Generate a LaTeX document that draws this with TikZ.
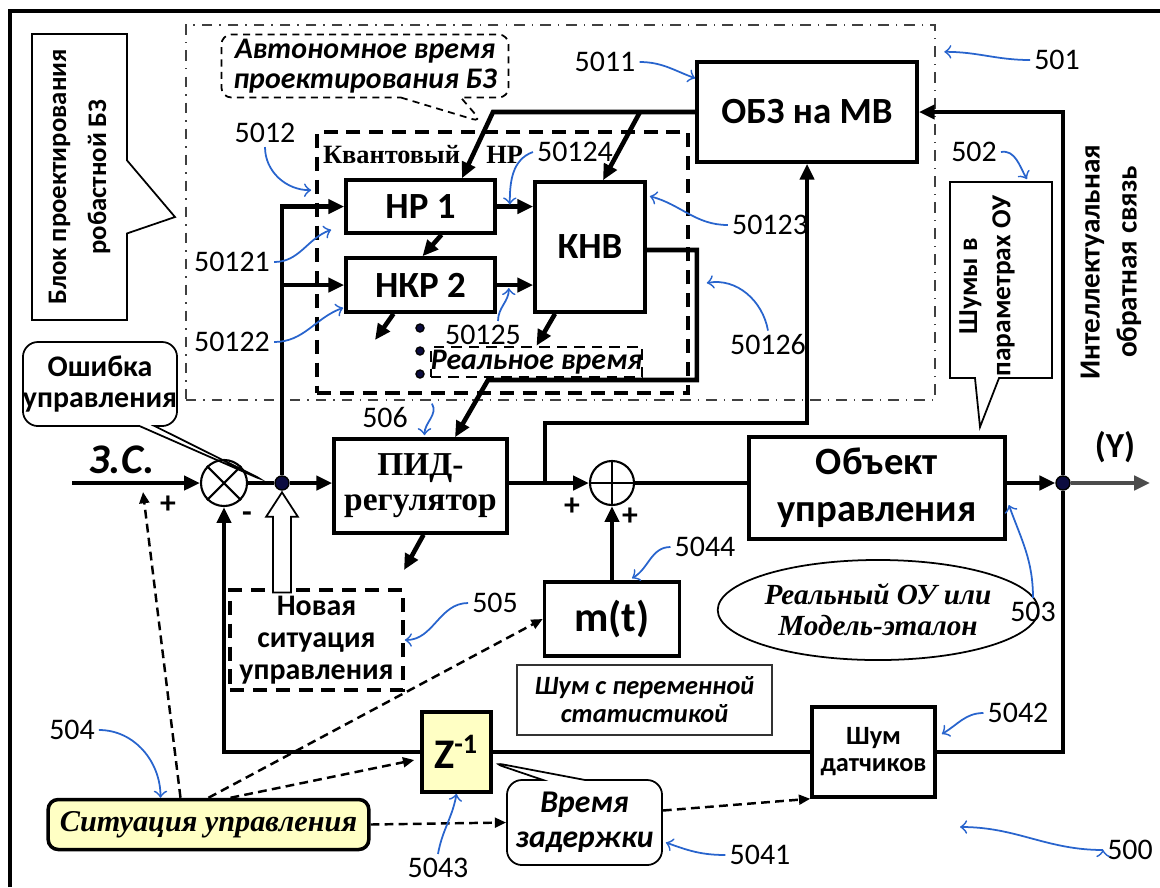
\documentclass[tikz,border=0pt]{standalone}
\usepackage{fontspec}
\setmainfont{Carlito}
\newfontfamily\timesfont{Liberation Serif}
\usepackage{tikz}
\usetikzlibrary{arrows.meta,positioning,shapes.geometric,shapes.callouts,shapes.arrows}
\definecolor{annoblue}{RGB}{40,100,205}
\definecolor{paleyellow}{RGB}{255,255,196}
\definecolor{dotnavy}{RGB}{12,12,64}
\newcommand{\fsz}[2]{\fontsize{#1}{#2}\selectfont}

\begin{document}
\begin{tikzpicture}
[x=0.01cm, y=-0.01cm,
% STYLES
% block is used for the boxes of the control loop
block/.style={rectangle, draw, line width=1pt, inner sep=0pt, align=center, font=\fsz{10.5}{12.5}\bfseries},
% dbox is used for the dashed boxes
dbox/.style={rectangle, draw, line width=1pt, dash pattern=on 4pt off 2.5pt, inner sep=0pt, align=center},
% call is used for the callouts
call/.style={rectangle callout, draw, line width=0.5pt, inner sep=0pt, align=center},
% signal lines
sig/.style={line width=1.3pt, -{Triangle[length=4.5pt,width=4pt]}},
wire/.style={line width=1.3pt},
sitlink/.style={line width=0.7pt, dash pattern=on 2.5pt off 1.5pt, -{Triangle[length=3.2pt,width=2.8pt]}},
% reference numbers and their blue arrows
num/.style={inner sep=1pt, font=\fsz{8.5}{10}},
anno/.style={draw=annoblue, line width=0.5pt, -to},
% circles
junction/.style={circle, draw, line width=0.6pt, inner sep=0pt},
bdot/.style={circle, draw, fill=dotnavy, minimum size=0.14cm, inner sep=0pt}]

\useasboundingbox (0,0) rectangle (1160,887);
\draw[line width=1.2pt] (10,887) -- (10,11) -- (1160,11);

% Draw the design block
\node[draw=black!75, dash dot, line width=0.6pt, minimum width=7.49cm, minimum height=3.75cm] (dsgn) at (560.5,212.5) {};
\node[dbox, minimum width=3.71cm, minimum height=2.61cm] (quant) at (502.5,262.5) {};
\node[font=\timesfont\fsz{7.5}{9}\bfseries] (qlabel) at (423,155) {Квантовый\quad НР};
\node[block, minimum width=2.2cm, minimum height=1.0cm] (obz) at (807,112) {ОБЗ на МВ};
\node[block, minimum width=1.49cm, minimum height=0.53cm] (hp1) at (420.5,206.5) {НР 1};
\node[block, minimum width=1.49cm, minimum height=0.54cm] (nkr2) at (420.5,285) {НКР 2};
\node[block, minimum width=1.1cm, minimum height=1.3cm] (knv) at (590,247) {КНВ};
\node[dbox, line width=0.7pt, dash pattern=on 3pt off 2pt, minimum width=2.03cm, minimum height=0.3cm, font=\fsz{8.5}{10}\bfseries\itshape] (realtime) at (536.5,362) {Реальное время};
\foreach \i/\y in {1/328, 2/351, 3/374}
  \node[bdot, minimum size=0.08cm] (vdot\i) at (420,\y) {};

% Draw the control loop
\node[block, font=\timesfont\fsz{9.5}{10}\bfseries, minimum width=1.73cm, minimum height=0.94cm] (pid) at (420.5,486) {ПИД-\\регулятор};
\node[block, font=\fsz{11}{13.4}\bfseries, minimum width=2.56cm, minimum height=1.02cm] (plant) at (877,488) {Объект\\управления};
\node[block, font=\fsz{12}{14}\bfseries, minimum width=1.35cm, minimum height=0.74cm] (mt) at (612,619) {m(t)};
\node[rectangle, draw=black!80, line width=0.5pt, minimum width=2.55cm, minimum height=0.6cm, align=center, font=\fsz{7.5}{8}\bfseries\itshape] (varnoise) at (644.5,700) {Шум с переменной\\статистикой};
\node[block, fill=paleyellow, font=\fsz{12}{14}\bfseries, minimum width=0.69cm, minimum height=0.8cm] (zinv) at (456.5,752) {Z\textsuperscript{-1}};
\node[block, font=\fsz{7.5}{7.7}\bfseries, minimum width=1.23cm, minimum height=0.9cm] (sensor) at (873.5,752) {Шум\\датчиков};
\node[dbox, font=\fsz{8.5}{9.2}\bfseries, minimum width=1.73cm, minimum height=1.0cm] (newsit) at (316.5,640) {Новая\\ситуация\\управления};
\node[rectangle, draw, rounded corners=0.1cm, line width=1pt, fill=paleyellow, minimum width=3.13cm, minimum height=0.49cm, font=\timesfont\fsz{8.6}{10}\bfseries\itshape] (sit) at (208.5,824.5) {Ситуация управления};
\node[ellipse, draw, line width=0.5pt, minimum width=2.48cm, minimum height=1.0cm, inner sep=0pt, align=center, font=\timesfont\fsz{8.3}{8.8}\bfseries\itshape] (ideal) at (878,610) {Реальный ОУ или\\Модель-эталон};

% Callouts
\node[call, minimum width=0.95cm, minimum height=2.86cm, callout absolute pointer={(175,217)}, callout pointer width=0.73cm] (blk) at (79.5,177) {};
\node[rotate=90, align=center, font=\fsz{7.6}{11.4}\bfseries] (blktext) at (blk.center) {Блок проектирования\\робастной БЗ};
\node[call, rounded corners=0.1cm, dash pattern=on 2pt off 1.5pt, minimum width=2.87cm, minimum height=0.63cm, callout absolute pointer={(482,122)}, callout pointer width=0.6cm, font=\fsz{8.5}{8.5}\bfseries\itshape] (autotime) at (365,66) {Автономное время\\проектирования БЗ};
\node[call, rounded corners=0.15cm, minimum width=1.36cm, minimum height=0.84cm, callout absolute pointer={(267,482)}, callout pointer width=0.15cm, font=\fsz{8.5}{9}\bfseries] (err) at (100,384) {Ошибка\\управления};
\node[call, minimum width=1.02cm, minimum height=1.96cm, callout absolute pointer={(980,427)}, callout pointer width=0.24cm] (noisecall) at (1001,280) {};
\node[rotate=90, align=center, font=\fsz{7.8}{9.4}\bfseries] (noisetext) at (987,286) {Шумы в\\параметрах ОУ};
\node[call, rounded corners=0.15cm, minimum width=1.55cm, minimum height=0.85cm, callout absolute pointer={(490,762)}, callout pointer width=0.42cm, font=\fsz{9}{10}\bfseries\itshape] (delay) at (584.5,822.5) {Время\\задержки};
\node[rotate=90, align=center, font=\fsz{8.3}{10.5}\bfseries] (fbtext) at (1111,262) {Интеллектуальная\\обратная связь};

% Sum, multiplier and branch points
\node[junction, minimum size=0.46cm] (mul) at (224,483) {};
\node[junction, minimum size=0.44cm] (sum) at (612,483) {};
\node[bdot] (jdot) at (282,483) {};
\node[bdot] (ydot) at (1063,483) {};
\draw[line width=0.6pt] (mul.north west) -- (mul.south east) (mul.north east) -- (mul.south west);
\draw[line width=0.6pt] (sum.north) -- (sum.south) (sum.west) -- (sum.east);

\coordinate (zsin) at (72,483);
\coordinate (yout) at (1150,483);
\coordinate (obzbend) at (493,112);
\coordinate (obzsplit) at (640,112);
\coordinate (pidtap) at (545,483);
\coordinate (kbend) at (488,380);
\coordinate (nkrout) at (375,340);
\coordinate (pidout) at (404,570);
\coordinate (zstip) at (143,492);
\coordinate (fig500) at (960,827);

\node[font=\fsz{12}{14}\bfseries\itshape] (zs) at (122,460) {З.С.};
\node[font=\fsz{10}{12}\bfseries] (ylab) at (1115,447) {(Y)};
\node[font=\fsz{9}{10}\bfseries] (sp1) at (168,505) {+};
\node[font=\fsz{9}{10}\bfseries] (sm1) at (247,517) {-};
\node[font=\fsz{9}{10}\bfseries] (sp2) at (572,507) {+};
\node[font=\fsz{9}{10}\bfseries] (sp3) at (630,517) {+};

% Draw the links
\draw[sig] (zsin) -- (mul.west);
\draw[wire] (mul.east) -- (jdot);
\draw[sig] (jdot) -- (pid.west |- jdot);
\draw[sig] (jdot) |- (hp1.west);
\draw[sig] (jdot |- nkr2.west) -- (nkr2.west);
\draw[sig] (hp1.east) -- (hp1.east -| knv.west);
\draw[sig] (nkr2.east) -- (nkr2.east -| knv.west);
\draw[sig] ([shift={(21,0)}]hp1.south) -- ([shift={(2,0)}]nkr2.north);
\draw[sig] ([shift={(-27,0)}]nkr2.south) -- (nkrout);
\draw[sig] ([shift={(-35,0)}]knv.south) -- (realtime.north);
\draw[sig] ([shift={(0,3)}]knv.east) -- ++(50,0) |- (kbend) -- ([shift={(34.5,0)}]pid.north);
\draw[sig] (obz.west) -- (obzbend) -- ([shift={(41.5,0)}]hp1.north);
\draw[sig] (obzsplit) -- ([shift={(13,0)}]knv.north);
\draw[sig] ([shift={(3,0)}]pid.south) -- (pidout);
\draw[sig] (pid.east |- sum) -- (sum.west);
\draw[sig] (pidtap) -- ++(0,-60) -| (obz.south);
\draw[wire] (sum.east) -- (sum.east -| plant.west);
\draw[sig] (plant.east |- ydot) -- (ydot);
\draw[sig, draw=black!70] (ydot) -- (yout);
\draw[sig] (ydot) |- (obz.east);
\draw[wire] (ydot) |- (sensor.east);
\draw[wire] (sensor.west) -- (zinv.east);
\draw[sig] (zinv.west) -| (mul.south);
\draw[sig] (mt.north) -- (sum.south);

% new situation enters the loop
\node[single arrow, draw, fill=white, line width=0.5pt, rotate=90, minimum height=1.0cm, inner sep=0.08cm, single arrow head extend=0.07cm, single arrow tip angle=66, anchor=tip] (hollow) at (jdot.south) {};

% situation links
\draw[sitlink] ([shift={(-28,0)}]sit.north) -- (zstip);
\draw[sitlink] (sit.north) -- (mt.west);
\draw[sitlink] ([shift={(22,0)}]sit.north) -- ([shift={(-6,8)}]zinv.west);
\draw[sitlink] (sit.east) -- (delay.west);
\draw[sitlink] ([shift={(0,-12)}]delay.east) -- (sensor.south west);

%%%%%%%%%%%%%%%
% Reference numbers
\node[num] (n501) at (1057,60) {501};
\node[num] (n5011) at (605,62) {5011};
\node[num] (n502) at (974,152) {502};
\node[num] (n5012) at (265,133) {5012};
\node[num] (n50121) at (232,262) {50121};
\node[num] (n50122) at (232,342) {50122};
\node[num] (n50124) at (575,152) {50124};
\node[num] (n50123) at (770,225) {50123};
\node[num] (n50125) at (483,335) {50125};
\node[num] (n50126) at (768,345) {50126};
\node[num] (n506) at (385,418) {506};
\node[num] (n5044) at (705,547) {5044};
\node[num] (n505) at (495,603) {505};
\node[num] (n503) at (1033,612) {503};
\node[num] (n504) at (72,730) {504};
\node[num] (n5043) at (438,868) {5043};
\node[num] (n5041) at (760,855) {5041};
\node[num] (n5042) at (1018,713) {5042};
\node[num] (n500) at (1130,850) {500};

\path[anno]
(n501.west) edge[out=180, in=0] ([shift={(8,28)}]dsgn.north east)
(n5011.east) edge[out=0, in=160] ([shift={(0,18)}]obz.north west)
(n502.east) edge[out=10, in=120] ([shift={(-26,-2)}]noisecall.north east)
(n5012.south) edge[out=-90, in=180] ([shift={(-4,60)}]quant.north west)
(n50121.east) edge[out=0, in=200] ([shift={(-13,-5)}]hp1.south west)
(n50122.east) edge[out=0, in=200] ([shift={(-1,-6)}]nkr2.south west)
(n50124.west) edge[out=200, in=90] ([shift={(13,-2)}]hp1.east)
(n50123.west) edge[out=180, in=-15] ([shift={(3,16)}]knv.north east)
([shift={(15,0)}]n50125.north) edge[out=90, in=-90] ([shift={(12,3)}]nkr2.east)
(n50126.north) edge[out=100, in=10] ([shift={(60,36)}]knv.east)
([shift={(20,0)}]n506.north east) edge[out=-60, in=90] ([shift={(4,-2)}]pid.north)
(n5044.west) edge[out=180, in=30] ([shift={(20,-2)}]mt.north)
(n505.west) edge[out=180, in=0] (newsit.east)
(n503.north) edge[out=90, in=-70] ([shift={(2,17)}]plant.east)
(n504.east) edge[out=0, in=90] ([shift={(-48,0)}]sit.north)
(n5043.north) edge[out=80, in=-100] (zinv.south)
(n5041.west) edge[out=180, in=-20] ([shift={(3,20)}]delay.east)
(n5042.west) edge[out=180, in=30] ([shift={(5,-18)}]sensor.east)
(n500.west) edge[out=180, in=0] (fig500);
%%%%%%%%%%%%%%%

\end{tikzpicture}
\end{document}
